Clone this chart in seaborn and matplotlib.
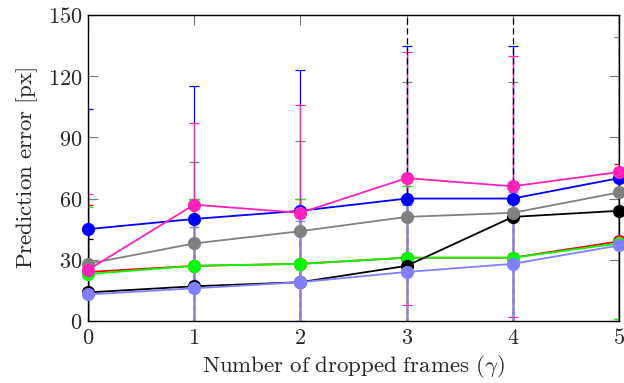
import numpy as np
import pandas as pd
import matplotlib
matplotlib.use("Agg")
import matplotlib.pyplot as plt
import seaborn as sns

# data
frames = [0, 1, 2, 3, 4, 5]
x_tick_labels = ["0", "1", "2", "3", "4", "5"]
y_ticks = [0, 30, 60, 90, 120, 150]

red_vals = [24, 27, 28, 31, 31, 39]
green_vals = [23, 27, 28, 31, 31, 38]
black_vals = [14, 17, 19, 27, 51, 54]
lavender_vals = [13, 16, 19, 24, 28, 37]
gray_vals = [28, 38, 44, 51, 53, 63]
blue_vals = [45, 50, 54, 60, 60, 70]
magenta_vals = [25, 57, 53, 70, 66, 73]

red_err = [33, 33, 32, 35, 35, 38]
green_err = [33, 33, 32, 35, 35, 37]
black_err = [26, 22, 32, 140, 140, 140]
lavender_err = [33, 30, 30, 33, 35, 38]
gray_err = [32, 40, 44, 66, 64, 76]
blue_err = [59, 65, 69, 75, 75, 85]
magenta_err = [37, 40, 53, 62, 64, 77]

series = [
    ("red", red_vals, red_err, "#ff0000"),
    ("green", green_vals, green_err, "#00ff00"),
    ("black", black_vals, black_err, "#000000"),
    ("lavender", lavender_vals, lavender_err, "#8080ff"),
    ("gray", gray_vals, gray_err, "#808080"),
    ("blue", blue_vals, blue_err, "#0000ff"),
    ("magenta", magenta_vals, magenta_err, "#ff22bb"),
]

sns.set_theme(style="white")
plt.rcParams["font.family"] = ["DejaVu Serif"]
plt.rcParams["mathtext.fontset"] = "cm"

fig = plt.figure(figsize=(6.24, 3.83), dpi=100)
ax = fig.add_axes([0.141, 0.162, 0.851, 0.799])

# bar stacking: dashed black above the others, lavender on top of it
bar_z = {"black": 3.0, "lavender": 3.1}

for i, (name, vals, err, col) in enumerate(series):
    df = pd.DataFrame({"frames": frames, "err": vals})
    eb = ax.errorbar(frames, vals, yerr=err, fmt="none", ecolor=col,
                     elinewidth=0.9, capsize=3.5, capthick=0.9,
                     zorder=bar_z.get(name, 2 + i * 0.1))
    if name == "black":
        eb[2][0].set_linestyle((0, (5, 3)))
    sns.lineplot(data=df, x="frames", y="err", color=col, marker="o",
                 markersize=9.5, markeredgewidth=0, linewidth=1.3,
                 ax=ax, clip_on=False, zorder=5 + i * 0.1)

ax.set_xlim(0, 5)
ax.set_ylim(0, 150)
ax.set_xticks(frames)
ax.set_xticklabels(["$%s$" % t for t in x_tick_labels], fontsize=16)
ax.set_yticks(y_ticks)
ax.set_yticklabels(["$%d$" % t for t in y_ticks], fontsize=16)
ax.tick_params(direction="in", length=7, width=0.8, color="#777777",
               top=True, right=True, bottom=True, left=True, pad=4)
for sp in ax.spines.values():
    sp.set_color("black")
    sp.set_linewidth(1.0)
    sp.set_zorder(4)

ax.set_xlabel(r"$\mathrm{Number\ of\ dropped\ frames}\ (\gamma)$", fontsize=16.5, labelpad=3)
ax.set_ylabel(r"$\mathrm{Prediction\ error\ [px]}$", fontsize=16.5, labelpad=6)

fig.savefig("out.png", dpi=100)
